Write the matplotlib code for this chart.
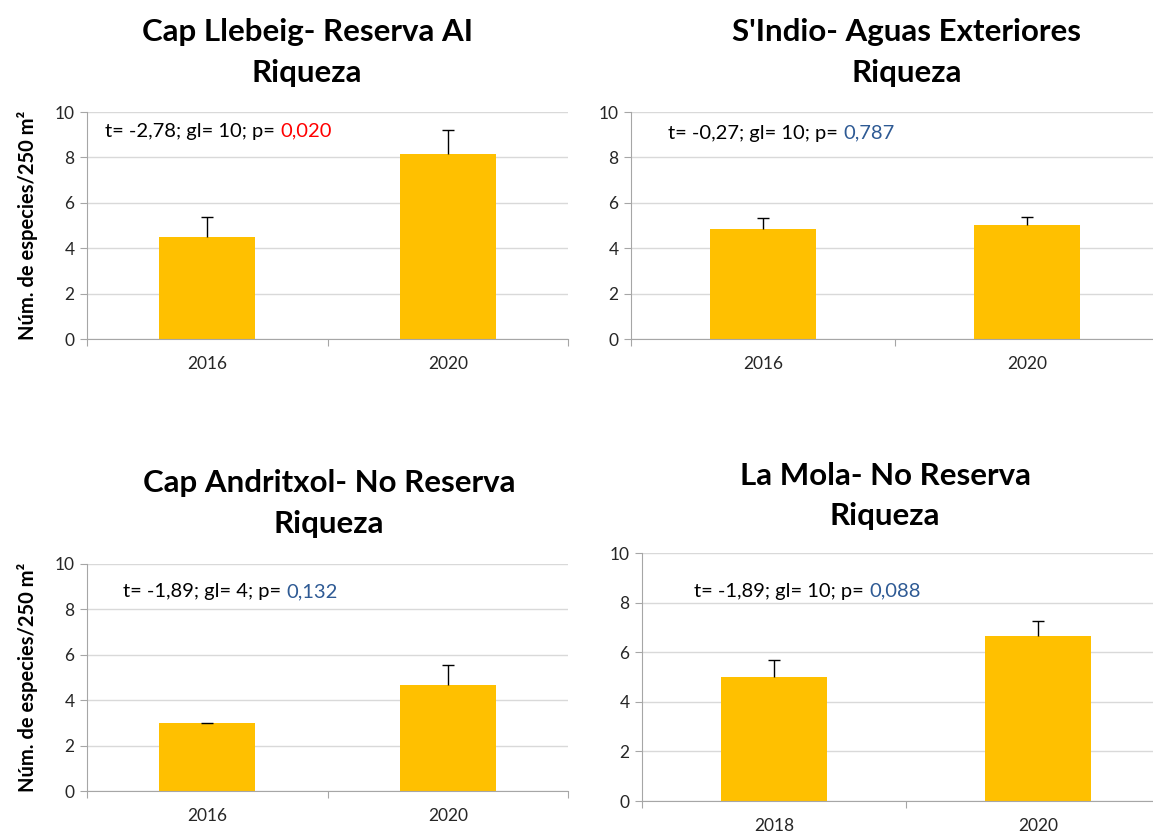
import matplotlib
matplotlib.use("Agg")
import matplotlib.pyplot as plt

plt.rcParams['font.family'] = ['Lato', 'DejaVu Sans']

# data
titles = ["Cap Llebeig- Reserva AI", "S'Indio- Aguas Exteriores",
          "Cap Andritxol- No Reserva", "La Mola- No Reserva"]
subtitle = "Riqueza"
years = [["2016", "2020"], ["2016", "2020"], ["2016", "2020"], ["2018", "2020"]]
means = [[4.5, 8.17], [4.86, 5.02], [3.0, 4.65], [5.0, 6.65]]
errs = [[0.87, 1.04], [0.47, 0.35], [0.0, 0.92], [0.69, 0.59]]
stats = ["t= -2,78; gl= 10; p= ", "t= -0,27; gl= 10; p= ",
         "t= -1,89; gl= 4; p= ", "t= -1,89; gl= 10; p= "]
pvals = ["0,020", "0,787", "0,132", "0,088"]
pcolors = ["#FF0000", "#2E5A94", "#2E5A94", "#2E5A94"]
ylabel = "Núm. de especies/250 m²"

W, H = 1153, 832
fig = plt.figure(figsize=(W / 100, H / 100), dpi=100)

# axes boxes in pixels: x0, x1, ytop, ybottom
boxes = [(87, 568, 112, 339), (631, 1159, 112, 339),
         (87, 568, 564, 791), (642, 1170, 553, 801)]
title_pos = [(307, 32, 73), (907, 32, 73), (329, 483, 524), (885, 476, 516)]
stat_pos = [(105, 131), (668, 133), (123, 592), (694, 591)]

bar_color = "#FFC000"
grid_color = "#D9D9D9"
spine_color = "#A6A6A6"

for i in range(4):
    x0, x1, yt, yb = boxes[i]
    ax = fig.add_axes([x0 / W, 1 - yb / H, (x1 - x0) / W, (yb - yt) / H])
    xs = [0, 1]
    ax.bar(xs, means[i], width=0.4, color=bar_color, zorder=2)
    # plus-only error bars: stem from bar top, cap only at the upper end
    tops = [m + e for m, e in zip(means[i], errs[i])]
    ax.vlines(xs, means[i], tops, color='black', linewidth=1, zorder=3)
    ax.plot(xs, tops, linestyle='none', marker='_', markersize=8,
            markeredgewidth=1, color='black', zorder=3)
    ax.set_xlim(-0.5, 1.5)
    ax.set_ylim(0, 10)
    ax.set_yticks(range(0, 11, 2))
    ax.yaxis.grid(True, color=grid_color, linewidth=1, zorder=0)
    ax.set_axisbelow(True)
    for s in ['top', 'right']:
        ax.spines[s].set_visible(False)
    ax.spines['left'].set_color(spine_color)
    ax.spines['bottom'].set_color(spine_color)
    ax.tick_params(axis='y', direction='out', length=5, color=spine_color,
                   labelsize=12.5, labelcolor='#262626', pad=4)
    # category boundaries as major ticks, labels on minor ticks
    ax.set_xticks([-0.5, 0.5, 1.5])
    ax.set_xticklabels([])
    ax.tick_params(axis='x', which='major', direction='out', length=5,
                   color=spine_color)
    ax.set_xticks(xs, minor=True)
    ax.set_xticklabels(years[i], minor=True)
    ax.tick_params(axis='x', which='minor', length=0, labelsize=12.5,
                   labelcolor='#262626', pad=12)

    sx, sy = stat_pos[i]
    t1 = fig.text(sx / W, 1 - sy / H, stats[i], fontsize=14.5, va='center',
                  ha='left', color='black')
    fig.canvas.draw()
    ax.annotate(pvals[i], xy=(1, 0), xycoords=t1, va='bottom', ha='left',
                fontsize=14.5, color=pcolors[i])

    cx, ty1, ty2 = title_pos[i]
    fig.text(cx / W, 1 - ty1 / H, titles[i], fontsize=22.5, fontweight='bold',
             ha='center', va='center')
    fig.text(cx / W, 1 - ty2 / H, subtitle, fontsize=22.5, fontweight='bold',
             ha='center', va='center')

# y labels for the left column
fig.text(28 / W, 1 - 225 / H, ylabel, rotation=90, fontsize=14.5,
         fontweight='bold', ha='center', va='center')
fig.text(28 / W, 1 - 677 / H, ylabel, rotation=90, fontsize=14.5,
         fontweight='bold', ha='center', va='center')

fig.savefig("out.png", dpi=100)
